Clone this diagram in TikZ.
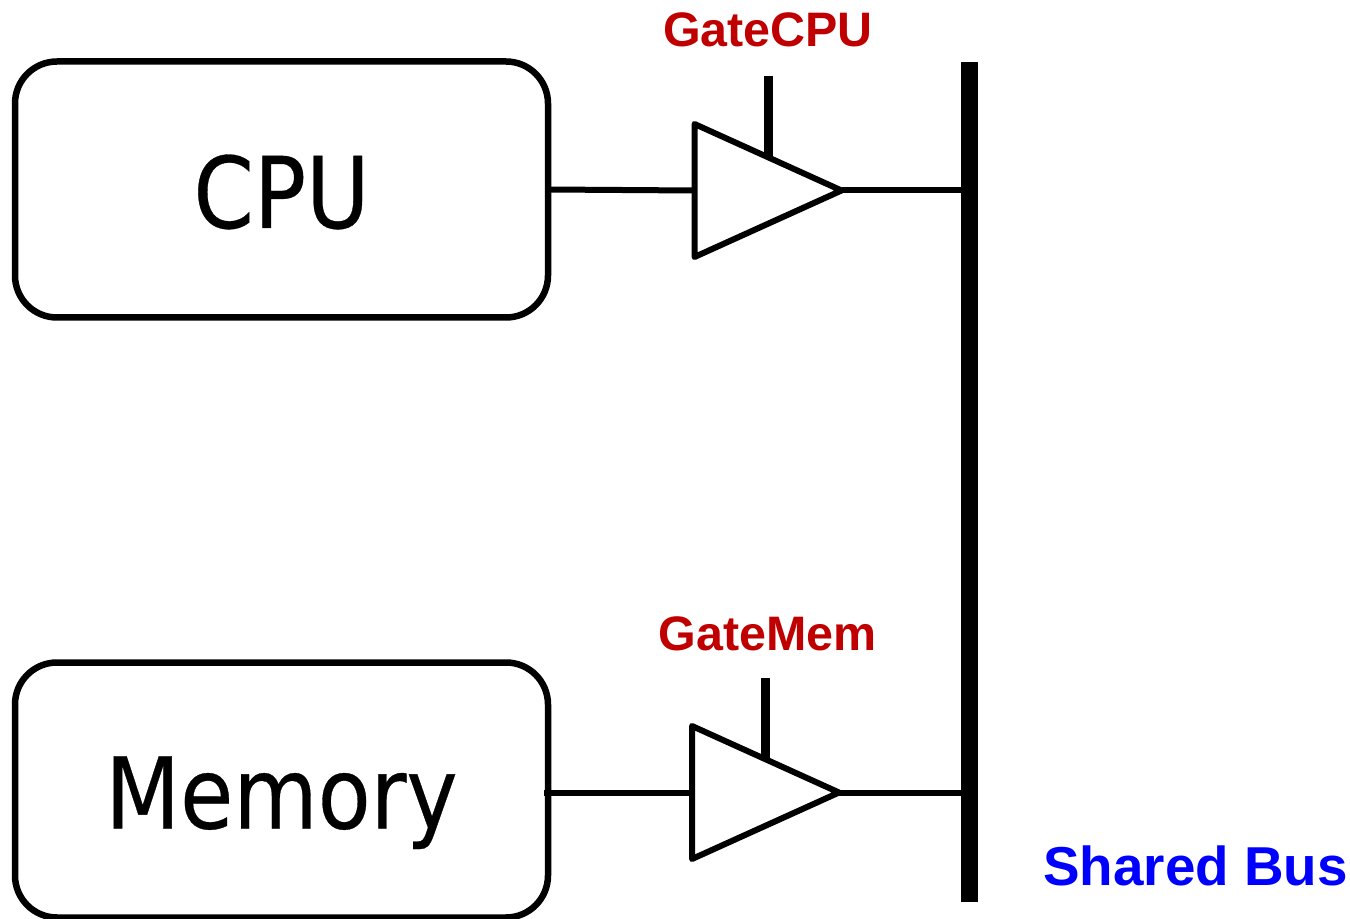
\documentclass[tikz,border=0pt]{standalone}
\usepackage{fontspec}
\setmainfont{DejaVu Sans}
\newfontfamily\boxfont[FakeStretch=0.875,FakeBold=0.3]{DejaVu Sans}
\newfontfamily\labelfont{Liberation Sans}
\usetikzlibrary{shapes.geometric,positioning,calc}
\definecolor{gatered}{RGB}{192,0,0}
\definecolor{busblue}{RGB}{0,0,255}

\begin{document}
\begin{tikzpicture}[
  x=0.5pt,y=-0.5pt,
  box/.style={rounded corners=21pt,draw=black,line width=3.25pt,inner sep=0pt,outer sep=0pt,
              minimum width=266.5pt,text height=38.5pt,text depth=0pt,
              font=\boxfont\fontsize{49.5}{50}\selectfont},
  gate/.style={isosceles triangle,isosceles triangle stretches,draw=black,line width=3pt,
               inner sep=0pt,outer sep=0pt,minimum width=66.5pt,minimum height=73.5pt,
               line join=round,anchor=west},
  bus/.style={fill=black,inner sep=0pt,outer sep=0pt,minimum width=8.5pt,minimum height=420pt},
  lbl/.style={font=\labelfont\bfseries\fontsize{24.2}{25}\selectfont,inner sep=0pt},
  wire/.style={line width=3pt},
  ctl/.style={line width=4.5pt}]
  \useasboundingbox (0,0) rectangle (1350,919);

  \node[box,minimum height=128pt] (cpu) at (281.5,189.5) {CPU};
  \node[box,minimum height=127.5pt] (mem) at (281.5,790) {Memory};
  \node[gate] (gatecpu) at (694.5,190.5) {};
  \node[gate] (gatemem) at (692,792.5) {};
  \node[bus] (sharedbus) at (969.5,482) {};

  \coordinate (ctlcpu) at (768,76);
  \coordinate (ctlmem) at (765.5,678);

  \draw[wire] (cpu.east) -- (gatecpu.west);
  \draw[wire,shorten <=-2pt] (gatemem.west -| mem.east) -- (gatemem.west);
  \draw[wire] (gatecpu.apex) -- (gatecpu.apex -| sharedbus.west);
  \draw[wire] (gatemem.apex) -- (gatemem.apex -| sharedbus.west);
  \draw[ctl] (ctlcpu) -- (ctlcpu |- gatecpu.left side);
  \draw[ctl] (ctlmem) -- (ctlmem |- gatemem.left side);

  \node[lbl,color=gatered,above=14.5pt of ctlcpu] (lblcpu) {GateCPU};
  \node[lbl,color=gatered,above=13.5pt of ctlmem,xshift=1pt] (lblmem) {GateMem};
  \node[lbl,color=busblue,font=\labelfont\bfseries\fontsize{27.4}{28}\selectfont] (lblbus) at (1195.5,866) {Shared Bus};
\end{tikzpicture}
\end{document}
